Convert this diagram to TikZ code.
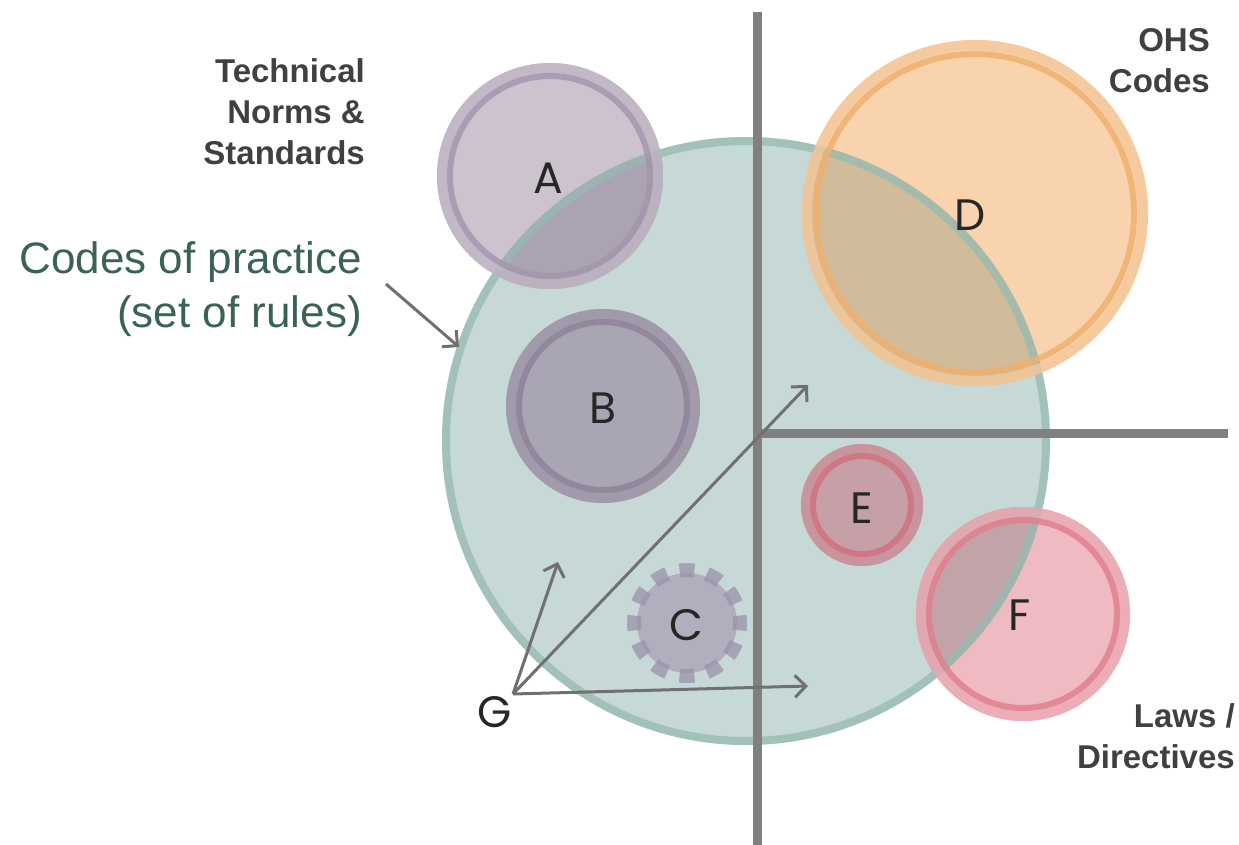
\documentclass[tikz,border=0pt]{standalone}
\usepackage{fontspec}
\setmainfont{Liberation Sans}
\newfontfamily\letterfont{Poppins}
\usetikzlibrary{arrows.meta}
\definecolor{greenfill}{RGB}{199,217,214}
\definecolor{greenring}{RGB}{150,186,178}
\definecolor{afill}{RGB}{205,195,207}
\definecolor{aover}{RGB}{170,164,178}
\definecolor{alight}{RGB}{192,182,197}
\definecolor{adark}{RGB}{165,150,174}
\definecolor{bfill}{RGB}{169,165,179}
\definecolor{blight}{RGB}{158,152,168}
\definecolor{bdark}{RGB}{142,130,152}
\definecolor{cfill}{RGB}{177,175,189}
\definecolor{cdash}{RGB}{155,146,170}
\definecolor{dfill}{RGB}{249,210,174}
\definecolor{dover}{RGB}{208,188,154}
\definecolor{dlight}{RGB}{244,200,155}
\definecolor{ddark}{RGB}{240,176,110}
\definecolor{efill}{RGB}{198,160,166}
\definecolor{elight}{RGB}{202,146,156}
\definecolor{edark}{RGB}{208,114,129}
\definecolor{ffill}{RGB}{240,186,194}
\definecolor{fover}{RGB}{194,164,168}
\definecolor{flight}{RGB}{234,170,180}
\definecolor{fdark}{RGB}{224,128,143}
\definecolor{axisgray}{RGB}{128,128,128}
\definecolor{arrowgray}{RGB}{112,112,112}
\definecolor{labelgray}{RGB}{64,64,64}
\definecolor{codegreen}{RGB}{58,98,86}
\newcommand\ringpair[5]{%
  \draw[#3, line width=10pt, draw opacity=0.8] #1 circle ({#2-5pt});
  \draw[#4, line width=6pt, draw opacity=0.85] #1 circle ({#2-#5});
}
\tikzset{
  letter/.style={font=\letterfont\fontsize{44}{52}\selectfont, text=black!85, inner sep=0pt},
  boldlabel/.style={font=\bfseries\fontsize{33}{41}\selectfont, text=labelgray, align=right, inner sep=0pt},
  greenlabel/.style={font=\fontsize{44}{54}\selectfont, text=codegreen, align=right, inner sep=0pt},
  pointer/.style={draw=arrowgray, line width=3pt, -{Straight Barb[length=11pt,width=22pt,line width=3pt]}},
  axisline/.style={draw=axisgray, line width=9pt}
}
\begin{document}
\begin{tikzpicture}[x=1pt,y=-1pt]
\path[use as bounding box] (0,0) rectangle (1239,845);
% big green circle
\fill[greenfill] (746,441) circle (304pt);
% overlapping fills
\fill[afill] (550,176) circle (113pt);
\fill[dfill] (975,213) circle (173pt);
\fill[ffill] (1023,614) circle (107pt);
\begin{scope}
  \clip (746,441) circle (304pt);
  \fill[aover] (550,176) circle (113pt);
  \fill[dover] (975,213) circle (173pt);
  \fill[fover] (1023,614) circle (107pt);
\end{scope}
% inner fills
\fill[bfill] (603,406) circle (97pt);
\fill[efill] (862,505) circle (61pt);
\fill[cfill] (687,623) circle (50pt);
\foreach \a in {0,30,...,330}{
  \draw[cdash, line width=14pt, draw opacity=0.75] (687,623) ++(\a-8:53pt) arc[start angle=\a-8, end angle=\a+8, radius=53pt];
}
% green ring
\draw[greenring, line width=8pt, draw opacity=0.75] (746,441) circle (300pt);
% rings
\ringpair{(550,176)}{113pt}{alight}{adark}{13pt}
\ringpair{(603,406)}{97pt}{blight}{bdark}{13pt}
\ringpair{(975,213)}{173pt}{dlight}{ddark}{14pt}
\ringpair{(862,505)}{61pt}{elight}{edark}{12pt}
\ringpair{(1023,614)}{107pt}{flight}{fdark}{13pt}
% axes
\draw[axisline] (757,12) -- (757,845);
\draw[axisline] (757,433) -- (1228,433);
% letters
\node[letter] (A) at (548,178) {A};
\node[letter] (B) at (603,408) {B};
\node[letter] (C) at (686,625) {C};
\node[letter] (D) at (970,215) {D};
\node[letter] (E) at (862,508) {E};
\node[letter] (F) at (1020,615) {F};
\node[letter] (G) at (495,712) {G};
% labels
\node[boldlabel, anchor=north east] (tns) at (365,58) {Technical\\Norms \&\\Standards};
\node[boldlabel, anchor=north east] (ohs) at (1210,28) {OHS\\Codes};
\node[boldlabel, anchor=north east] (laws) at (1235,703) {Laws /\\Directives};
\node[greenlabel, anchor=north east] (cop) at (362,241) {Codes of practice\\(set of rules)};
% arrows
\coordinate (copstart) at (386,284);
\coordinate (copend) at (459,347);
\coordinate (g0) at (513,694);
\coordinate (g1) at (558,562);
\coordinate (g2) at (808,385);
\coordinate (g3) at (808,686);
\draw[pointer] (copstart) -- (copend);
\draw[pointer] (g0) -- (g1);
\draw[pointer] (g0) -- (g2);
\draw[pointer] (g0) -- (g3);
\end{tikzpicture}
\end{document}
